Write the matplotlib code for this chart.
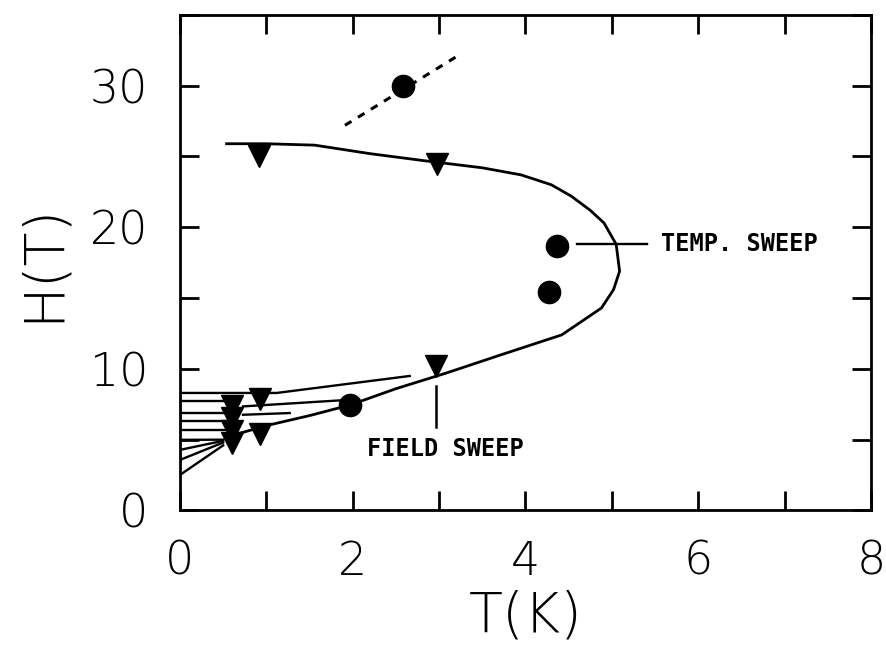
import matplotlib
matplotlib.use('Agg')
import matplotlib.pyplot as plt
from matplotlib.ticker import MultipleLocator

# Phase boundary (solid curve)
curve_T = [0.54, 1.0, 1.56, 2.2, 2.83, 3.5, 3.95, 4.3, 4.53, 4.75, 4.91, 5.05, 5.09,
           5.02, 4.88, 4.42, 3.72, 3.08, 2.5, 1.97, 1.5, 1.04, 0.6]
curve_H = [25.9, 25.9, 25.8, 25.2, 24.7, 24.2, 23.7, 23.0, 22.2, 21.2, 20.3, 18.8, 16.9,
           15.6, 14.3, 12.4, 11.0, 9.7, 8.6, 7.45, 6.7, 6.05, 5.3]

# Dashed segment at high field
dash_T = [1.91, 3.24]
dash_H = [27.2, 32.2]

# Temperature-sweep points (circles)
circle_T = [2.58, 4.36, 4.27, 1.97]
circle_H = [30.0, 18.7, 15.4, 7.45]

# Field-sweep points (down triangles)
tri_T = [0.91, 2.98, 2.97, 0.93, 0.93, 0.6, 0.6, 0.6, 0.6]
tri_H = [25.0, 24.5, 10.2, 7.9, 5.4, 7.4, 6.5, 5.6, 4.8]

# Hatched region in the low-field corner
hatch_lines = [
    ([0.0, 1.12, 2.66], [8.3, 8.3, 9.5]),
    ([0.73, 1.97], [7.35, 7.82]),
    ([0.73, 1.27], [6.76, 6.88]),
    ([0.0, 0.55], [7.7, 7.7]),
    ([0.0, 0.55], [6.88, 6.88]),
    ([0.0, 0.55], [6.29, 6.29]),
    ([0.0, 0.55], [5.7, 5.7]),
    ([0.0, 0.5], [4.99, 5.0]),
    ([0.0, 0.5], [4.28, 4.92]),
    ([0.0, 0.5], [3.57, 4.8]),
    ([0.0, 0.5], [2.51, 4.6]),
]

fig = plt.figure(figsize=(8.87, 6.47), dpi=100)
ax = fig.add_axes([0.2029, 0.211, 0.779, 0.766])

ax.plot(curve_T, curve_H, color='black', lw=2.0)
ax.plot(dash_T, dash_H, color='black', lw=2.2, linestyle=(0, (2.5, 2.5)))
for ht, hh in hatch_lines:
    ax.plot(ht, hh, color='black', lw=1.7)

ax.plot(circle_T, circle_H, 'o', color='black', markersize=16, linestyle='none')
ax.plot(tri_T, tri_H, 'v', color='black', markersize=16, linestyle='none')

# Annotations
ax.plot([4.6, 5.41], [18.8, 18.8], color='black', lw=1.7)
ax.text(5.57, 18.8, 'TEMP. SWEEP', fontsize=17, fontweight='bold',
        family='DejaVu Sans Mono', ha='left', va='center')
ax.plot([2.97, 2.97], [5.93, 8.76], color='black', lw=1.8)
ax.text(2.16, 4.35, 'FIELD SWEEP', fontsize=17, fontweight='bold',
        family='DejaVu Sans Mono', ha='left', va='center')

ax.set_xlim(0, 8)
ax.set_ylim(0, 35)
ax.xaxis.set_major_locator(MultipleLocator(2))
ax.xaxis.set_minor_locator(MultipleLocator(1))
ax.yaxis.set_major_locator(MultipleLocator(10))
ax.yaxis.set_minor_locator(MultipleLocator(5))

ax.tick_params(which='both', direction='in', top=True, right=True,
               length=14, width=2)
ax.tick_params(axis='x', which='major', pad=21, labelsize=33)
ax.tick_params(axis='y', which='major', pad=23, labelsize=33)
for lbl in ax.get_xticklabels() + ax.get_yticklabels():
    lbl.set_fontweight('light')
for sp in ax.spines.values():
    sp.set_linewidth(2)

ax.set_xlabel('T(K)', fontsize=40, fontweight='light', labelpad=4)
ax.set_ylabel('H(T)', fontsize=40, fontweight='light', labelpad=14)

plt.savefig('out.png', dpi=100)
